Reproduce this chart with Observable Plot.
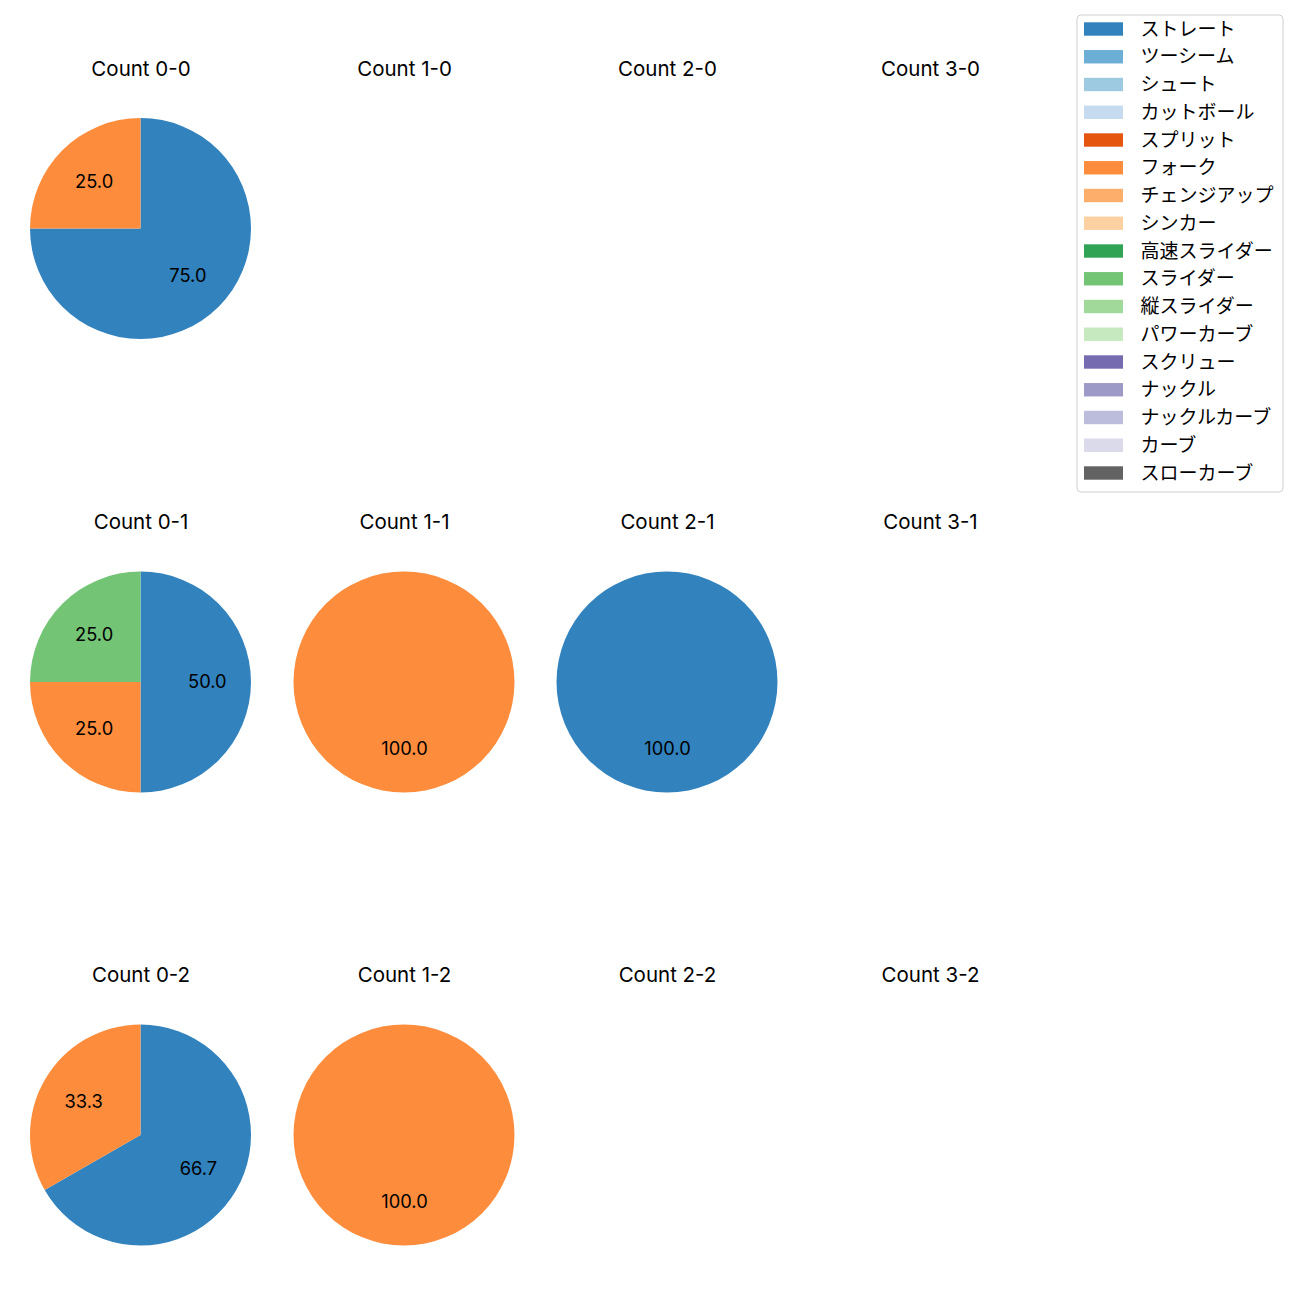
<!DOCTYPE html>
<html>
<head>
<meta charset="utf-8">
<script src="https://cdn.jsdelivr.net/npm/d3@7"></script>
<script src="https://cdn.jsdelivr.net/npm/@observablehq/plot@0.6"></script>
<style>
  html, body { margin: 0; padding: 0; background: #fff; }
  #chart svg { display: block; }
</style>
</head>
<body>
<div id="chart"></div>
<script>
// ---- data ----
const pitchTypes = ["ストレート","ツーシーム","シュート","カットボール","スプリット","フォーク","チェンジアップ","シンカー","高速スライダー","スライダー","縦スライダー","パワーカーブ","スクリュー","ナックル","ナックルカーブ","カーブ","スローカーブ"];
const pitchColors = ["#3182bd","#6baed6","#9ecae1","#c6dbef","#e6550d","#fd8d3c","#fdae6b","#fdd0a2","#31a354","#74c476","#a1d99b","#c7e9c0","#756bb1","#9e9ac8","#bcbddc","#dadaeb","#636363"];
const balls = [0, 1, 2, 3];
const strikes = [0, 1, 2];
const sliceCount = ["0-0","0-0","0-1","0-1","0-1","1-1","2-1","0-2","0-2","1-2"];
const slicePitch = ["ストレート","フォーク","ストレート","フォーク","スライダー","フォーク","ストレート","ストレート","フォーク","フォーク"];
const sliceValue = [75, 25, 50, 25, 25, 100, 100, 66.7, 33.3, 100];

// ---- layout ----
const colX = [140.5, 404, 667, 930];
const rowY = [228.5, 682, 1135];
const R = 110.5;
const LATIN = "Inter, 'Noto Sans CJK JP', sans-serif";
const CJK = "'Noto Sans CJK JP', 'Noto Sans', sans-serif";

const panels = [];
strikes.forEach((s, ri) => balls.forEach((b, ci) => {
  panels.push({count: `${b}-${s}`, title: `Count ${b}-${s}`, cx: colX[ci], cy: rowY[ri]});
}));

// wedges, ordered by pitch type within each panel, clockwise from 12 o'clock
const wedges = [];
for (const p of panels) {
  const rows = sliceCount.map((c, i) => ({c, pitch: slicePitch[i], value: sliceValue[i]}))
    .filter(d => d.c === p.count)
    .sort((a, b) => pitchTypes.indexOf(a.pitch) - pitchTypes.indexOf(b.pitch));
  const total = d3.sum(rows, d => d.value);
  let acc = 0;
  for (const d of rows) {
    const start = acc / total, end = (acc + d.value) / total;
    acc += d.value;
    const mid = (start + end) / 2 * 2 * Math.PI;
    wedges.push({
      count: p.count, pitch: d.pitch, value: d.value,
      cx: p.cx, cy: p.cy, start, end,
      lx: p.cx + 0.6 * R * Math.sin(mid),
      ly: p.cy - 0.6 * R * Math.cos(mid),
      label: d.value.toFixed(1)
    });
  }
}

const legendRows = pitchTypes.map((t, i) => ({pitch: t, y: 29 + i * 27.75}));

function pieMark(index, scales) {
  const g = d3.create("svg:g");
  const arc = d3.arc().innerRadius(0).outerRadius(R);
  for (const w of wedges) {
    g.append("path")
      .attr("transform", `translate(${scales.x(w.cx)},${scales.y(w.cy)})`)
      .attr("d", arc({startAngle: w.start * 2 * Math.PI, endAngle: w.end * 2 * Math.PI}))
      .attr("fill", scales.color(w.pitch));
  }
  return g.node();
}

const chart = Plot.plot({
  width: 1300,
  height: 1300,
  margin: 0,
  x: {type: "linear", domain: [0, 1300], range: [0, 1300], axis: null},
  y: {type: "linear", domain: [0, 1300], range: [0, 1300], axis: null},
  color: {type: "ordinal", domain: pitchTypes, range: pitchColors},
  style: {fontFamily: CJK, background: "#fff", color: "#000"},
  marks: [
    pieMark,
    Plot.text(wedges, {x: "lx", y: "ly", text: "label", fontSize: 18.3, fontFamily: LATIN, fill: "#000"}),
    Plot.text(panels, {x: "cx", y: d => d.cy - 160, text: "title", fontSize: 20.5, fontFamily: LATIN, fill: "#000"}),
    // legend
    Plot.rect([0], {x1: 1077, x2: 1283, y1: 15, y2: 492, fill: "#fff", stroke: "#d0d0d0", strokeWidth: 1, rx: 4}),
    Plot.rect(legendRows, {x1: 1084, x2: 1123, y1: d => d.y - 6.7, y2: d => d.y + 6.7, fill: "pitch"}),
    Plot.text(legendRows, {x: 1140, y: "y", text: "pitch", textAnchor: "start", fontSize: 19, fontFamily: CJK, fill: "#000"})
  ]
});
document.getElementById("chart").appendChild(chart);
</script>
</body>
</html>
